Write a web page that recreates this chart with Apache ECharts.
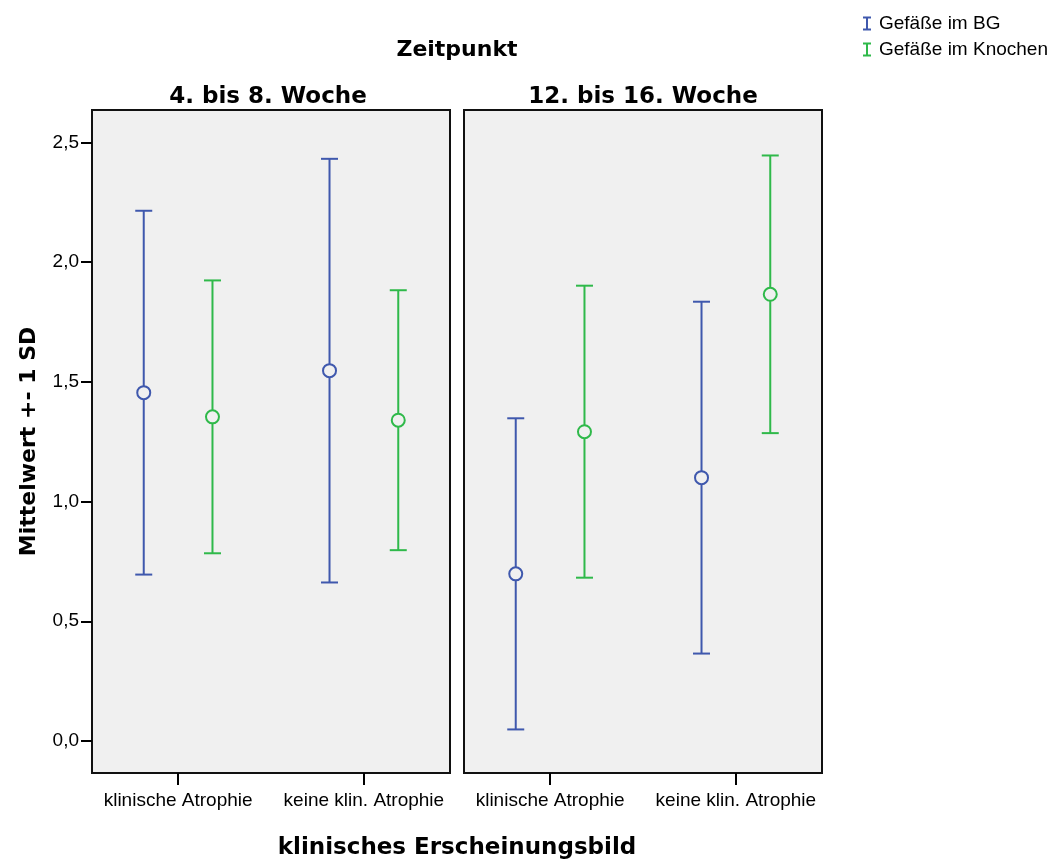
<!DOCTYPE html>
<html>
<head>
<meta charset="utf-8">
<script src="https://cdn.jsdelivr.net/npm/echarts@6/dist/echarts.min.js"></script>
<style>
  html, body { margin: 0; padding: 0; background: #ffffff; }
  #chart { width: 1055px; height: 864px; }
</style>
</head>
<body>
<div id="chart"></div>
<script>
// Mittelwert ± 1 SD der Gefäßzahlen, getrennt nach Zeitpunkt und klinischem Bild
const panels = ['4. bis 8. Woche', '12. bis 16. Woche'];
const categories = ['klinische Atrophie', 'keine klin. Atrophie'];
const seriesNames = ['Gefäße im BG', 'Gefäße im Knochen'];

// [Panel][Kategorie]
const bgMean = [[1.455, 1.547], [0.698, 1.100]];
const bgSD   = [[0.760, 0.885], [0.650, 0.735]];
const knMean = [[1.354, 1.340], [1.292, 1.866]];
const knSD   = [[0.570, 0.543], [0.610, 0.580]];

const yTicks = [0, 0.5, 1, 1.5, 2, 2.5];

const FONT = '"Liberation Sans", Arial, sans-serif';
const BOLD_FONT = '"DejaVu Sans", sans-serif';
const BLUE = '#3f58ad';
const GREEN = '#2fb94a';
const PANEL_BG = '#f0f0f0';
const catPos = [1, 3];
const groupShift = 0.37;

function errorBarItem(color) {
  return function (params, api) {
    const x = api.value(0), m = api.value(1), sd = api.value(2);
    const c = api.coord([x, m]);
    const t = api.coord([x, m + sd]);
    const b = api.coord([x, m - sd]);
    const cap = 8.5;
    const st = { stroke: color, lineWidth: 2 };
    return {
      type: 'group',
      children: [
        { type: 'line', shape: { x1: t[0], y1: t[1], x2: b[0], y2: b[1] }, style: st },
        { type: 'line', shape: { x1: t[0] - cap, y1: t[1], x2: t[0] + cap, y2: t[1] }, style: st },
        { type: 'line', shape: { x1: b[0] - cap, y1: b[1], x2: b[0] + cap, y2: b[1] }, style: st },
        { type: 'circle', shape: { cx: c[0], cy: c[1], r: 6.5 }, style: { fill: PANEL_BG, stroke: color, lineWidth: 2 } }
      ]
    };
  };
}

const grids = [
  { left: 92, top: 110, width: 358, height: 663 },
  { left: 464, top: 110, width: 358, height: 663 }
].map(g => Object.assign(g, {
  show: true, backgroundColor: PANEL_BG, borderColor: '#111', borderWidth: 2
}));

const xAxes = panels.map((p, i) => ({
  type: 'value', gridIndex: i, min: 0.073, max: 3.927, position: 'bottom',
  axisLine: { show: false, onZero: false },
  splitLine: { show: false },
  axisTick: { show: true, customValues: catPos, length: 12, lineStyle: { color: '#000', width: 2 } },
  axisLabel: {
    customValues: catPos, margin: 18,
    fontFamily: FONT, fontSize: 19, color: '#000',
    formatter: v => categories[catPos.indexOf(v)]
  }
}));

const yAxes = panels.map((p, i) => ({
  type: 'value', gridIndex: i, min: -0.134, max: 2.636, position: 'left',
  axisLine: { show: false, onZero: false },
  splitLine: { show: false },
  axisTick: { show: i === 0, customValues: yTicks, length: 11, lineStyle: { color: '#000', width: 2 } },
  axisLabel: {
    show: i === 0, customValues: yTicks, margin: 13,
    fontFamily: FONT, fontSize: 19, color: '#000',
    formatter: v => v.toFixed(1).replace('.', ',')
  },
  name: i === 0 ? 'Mittelwert +- 1 SD' : '',
  nameLocation: 'middle', nameRotate: 90, nameGap: 52,
  nameTextStyle: { fontFamily: BOLD_FONT, fontSize: 22, fontWeight: 'bold', color: '#000' }
}));

const series = [];
panels.forEach((p, i) => {
  series.push({
    name: seriesNames[0], type: 'custom', xAxisIndex: i, yAxisIndex: i,
    itemStyle: { color: BLUE },
    renderItem: errorBarItem(BLUE),
    data: categories.map((c, k) => [catPos[k] - groupShift, bgMean[i][k], bgSD[i][k]])
  });
  series.push({
    name: seriesNames[1], type: 'custom', xAxisIndex: i, yAxisIndex: i,
    itemStyle: { color: GREEN },
    renderItem: errorBarItem(GREEN),
    data: categories.map((c, k) => [catPos[k] + groupShift, knMean[i][k], knSD[i][k]])
  });
});

function titleText(text, x, y, size) {
  return {
    type: 'text', x: x, y: y,
    style: { text: text, fontFamily: BOLD_FONT, fontSize: size, fontWeight: 'bold', fill: '#000',
             textAlign: 'center', textVerticalAlign: 'middle' }
  };
}

const chart = echarts.init(document.getElementById('chart'), null, { renderer: 'canvas' });
chart.setOption({
  animation: false,
  backgroundColor: '#ffffff',
  grid: grids,
  xAxis: xAxes,
  yAxis: yAxes,
  legend: {
    data: seriesNames.map(n => ({ name: n, icon: 'path://M0,0H8V2H5V12H8V14H0V12H3V2H0Z' })),
    orient: 'vertical', left: 858, top: 9,
    itemWidth: 8, itemHeight: 14, itemGap: 7,
    textStyle: { fontFamily: FONT, fontSize: 19, color: '#000', padding: [0, 0, 0, 3] },
    selectedMode: false
  },
  graphic: [
    titleText('Zeitpunkt', 457, 50, 22),
    titleText(panels[0], 268, 97, 23),
    titleText(panels[1], 643, 97, 23),
    titleText('klinisches Erscheinungsbild', 457, 848, 23)
  ],
  series: series
});
</script>
</body>
</html>
